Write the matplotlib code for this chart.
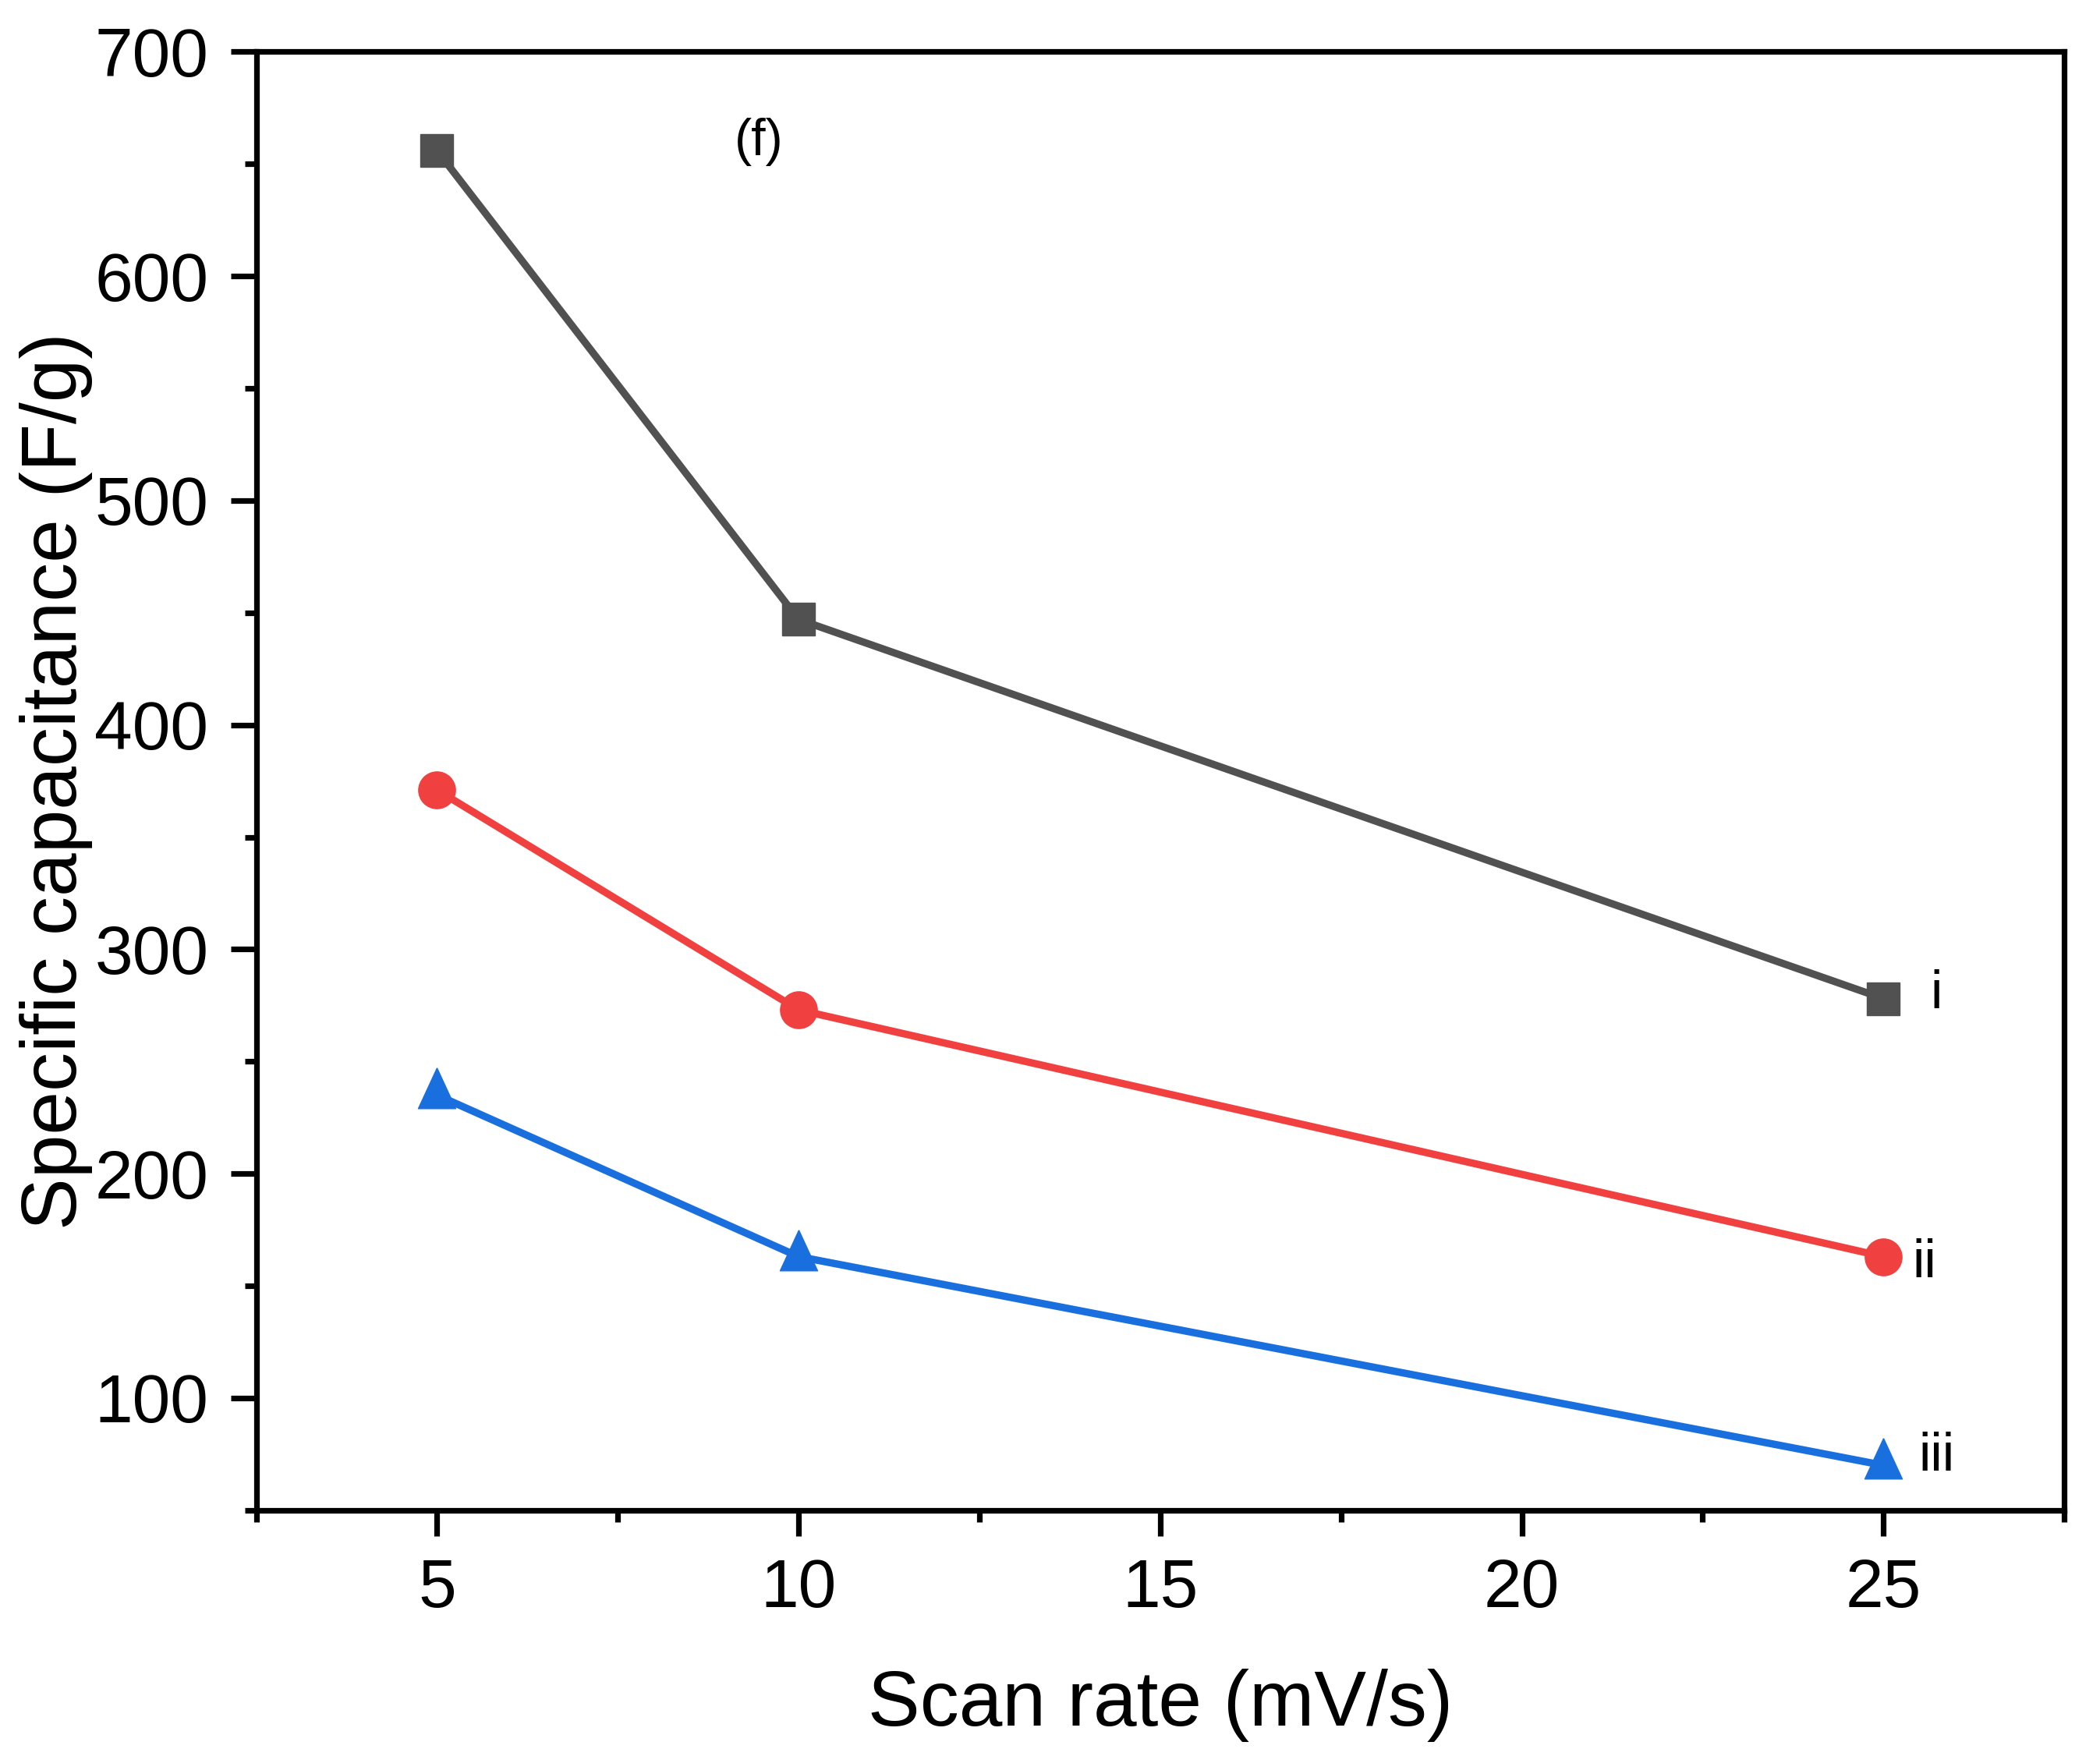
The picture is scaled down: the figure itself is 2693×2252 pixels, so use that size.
import matplotlib
matplotlib.use('Agg')
import matplotlib.pyplot as plt
from matplotlib.ticker import MultipleLocator

plt.rcParams['font.family'] = ['Liberation Sans', 'DejaVu Sans']

scan_rate = [5, 10, 25]
cap_i = [656, 447, 278]
cap_ii = [371, 273, 163]
cap_iii = [235, 163, 70]

# Origin-style triangle: centred on its centroid, not its bounding box
tri = [(0, 34.7), (-24, -17.3), (24, -17.3), (0, 34.7)]

fig = plt.figure(figsize=(26.93, 22.52), dpi=100)
ax = fig.add_axes([0.122, 0.140, 0.861, 0.8305])

ax.plot(scan_rate, cap_i, color='#515151', lw=6.8, marker='s', ms=30)
ax.plot(scan_rate, cap_ii, color='#F14040', lw=6.8, marker='o', ms=34)
ax.plot(scan_rate, cap_iii, color='#1A6FDF', lw=6.8, marker=tri, ms=50)

ax.text(25.73, 280, 'i', fontsize=50, ha='center', va='center')
ax.text(25.56, 160, 'ii', fontsize=50, ha='center', va='center')
ax.text(25.73, 74, 'iii', fontsize=50, ha='center', va='center')
ax.text(9.45, 660, '(f)', fontsize=48, ha='center', va='center')

ax.set_xlim(2.5, 27.5)
ax.set_ylim(50, 700)
ax.xaxis.set_major_locator(MultipleLocator(5))
ax.xaxis.set_minor_locator(MultipleLocator(2.5))
ax.yaxis.set_minor_locator(MultipleLocator(50))
ax.set_yticks(range(100, 701, 100))

for s in ax.spines.values():
    s.set_linewidth(5.2)
ax.tick_params(which='major', length=24, width=5.2, labelsize=63, pad=20)
ax.tick_params(which='minor', length=11, width=5.2)

ax.set_xlabel('Scan rate (mV/s)', fontsize=72, labelpad=44)
ax.set_ylabel('Specific capacitance (F/g)', fontsize=72, labelpad=2)

fig.savefig('out.png', dpi=100)
